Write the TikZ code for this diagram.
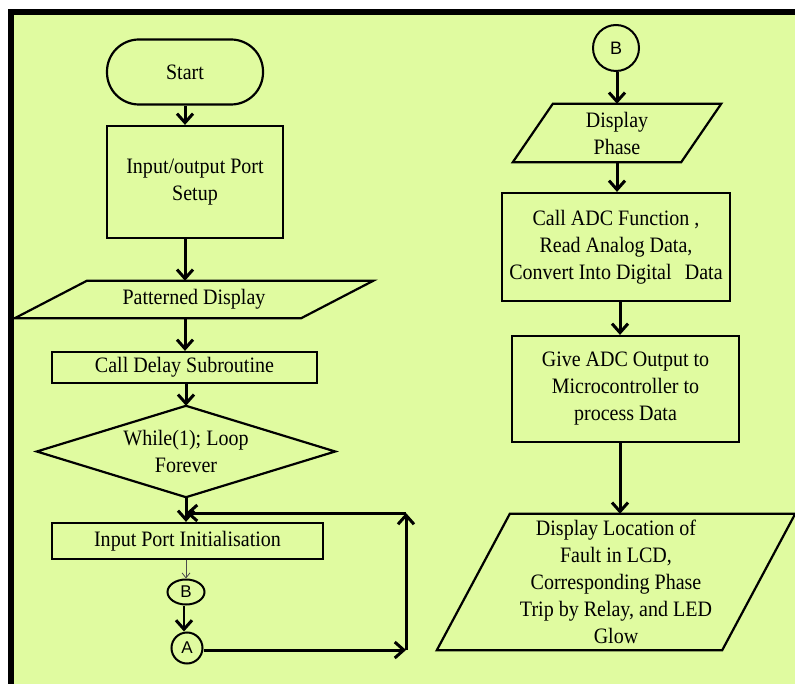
\documentclass[tikz,border=0pt]{standalone}
\usepackage{fontspec}
\setmainfont{Liberation Serif}[FakeStretch=0.91]
\newfontfamily\lsans{Liberation Sans}
\usetikzlibrary{arrows.meta,shapes.geometric}
\definecolor{bgc}{RGB}{224,251,160}
\tikzset{
  box/.style={draw,line width=2.2pt,rectangle,align=center,inner sep=0pt,font=\fontsize{22}{27}\selectfont},
  ghost/.style={rectangle,align=center,inner sep=0pt,font=\fontsize{22}{27}\selectfont},
  shp/.style={draw,line width=2.2pt,line join=miter},
  arr/.style={line width=3pt,-{Straight Barb[length=9pt,width=16pt,line width=3pt]}},
  thinarr/.style={line width=0.8pt,draw=black!70,-{Straight Barb[length=5pt,width=8pt]}},
  conn/.style={draw,line width=2pt,inner sep=0pt,font=\lsans\fontsize{17}{17}\selectfont},
}
\begin{document}
\begin{tikzpicture}[x=1pt,y=-1pt]
\useasboundingbox (0,0) rectangle (795,684);
\fill[white] (0,0) rectangle (795,684);
\fill[bgc] (11,12) rectangle (795,684);
\draw[line width=6pt] (11,684) -- (11,12) -- (795,12);

% left column
\node[box,rounded corners=32pt,minimum width=156pt,minimum height=65pt] (start) at (185,72) {Start};
\node[box,minimum width=176pt,minimum height=112pt] (io) at (195,182) {Input/output Port\\Setup};
\node[ghost,minimum width=358pt,minimum height=37pt] (pd) at (194,299.5) {Patterned Display};
\draw[shp] (pd.south west) -- ([xshift=-72pt]pd.south east) -- (pd.north east) -- ([xshift=72pt]pd.north west) -- cycle;
\node[box,minimum width=265pt,minimum height=31pt] (cd) at (184.5,367.5) {Call Delay Subroutine};
\node[ghost,minimum width=298pt,minimum height=91pt] (wh) at (186,451.5) {While(1); Loop\\Forever};
\draw[shp] (wh.west) -- (wh.north) -- (wh.east) -- (wh.south) -- cycle;
\node[box,minimum width=271pt,minimum height=36pt] (ipi) at (187.5,541) {Input Port Initialisation};
\node[conn,ellipse,minimum width=37pt,minimum height=25pt] (b1) at (186,592) {B};
\node[conn,circle,minimum size=31pt] (a1) at (187,648) {A};
\coordinate (j) at (186,513);
\coordinate (c1) at (406,650);
\coordinate (c2) at (406,513);

\draw[arr] (start.south) -- (start.south |- io.north);
\draw[arr] (io.south -| start.south) -- (start.south |- pd.north);
\draw[arr] (pd.south -| start.south) -- (start.south |- cd.north);
\draw[arr] (cd.south -| wh.north) -- (wh.north);
\draw[arr] (wh.south) -- (wh.south |- ipi.north);
\draw[thinarr] (ipi.south -| b1.north) -- (b1.north);
\draw[arr,line width=2pt] ([xshift=-2pt]b1.south) -- ([xshift=-2pt]b1.south |- a1.north);
\draw[arr] (a1.east |- c1) -- (c1);
\draw[arr] (c1) -- (c2);
\draw[arr] (c2) -- (j);

% right column
\node[conn,circle,minimum size=46pt,font=\lsans\fontsize{18}{18}\selectfont] (b2) at (616,48) {B};
\node[ghost,minimum width=208pt,minimum height=58pt] (dp) at (617,133) {Display\\Phase};
\draw[shp] (dp.south west) -- ([xshift=-40pt]dp.south east) -- (dp.north east) -- ([xshift=40pt]dp.north west) -- cycle;
\node[box,minimum width=228pt,minimum height=108pt] (adc) at (616,247) {Call ADC Function ,\\Read Analog Data,\\Convert Into Digital\hspace{0.6em}Data};
\node[box,minimum width=227pt,minimum height=106pt] (give) at (625.5,389) {Give ADC Output to\\Microcontroller to\\process Data};
\node[ghost,minimum width=358pt,minimum height=136pt] (fin) at (616,582) {Display Location of\\Fault in LCD,\\Corresponding Phase\\Trip by Relay, and LED\\Glow};
\draw[shp] (fin.south west) -- ([xshift=-73pt]fin.south east) -- (fin.north east) -- ([xshift=73pt]fin.north west) -- cycle;

\draw[arr] (b2.south -| dp.north) -- (dp.north);
\draw[arr] (dp.south) -- (dp.south |- adc.north);
\draw[arr] ([xshift=4pt]adc.south) -- ([xshift=4pt]adc.south |- give.north);
\draw[arr] ([xshift=-5.5pt]give.south) -- ([xshift=-5.5pt]give.south |- fin.north);
\end{tikzpicture}
\end{document}
